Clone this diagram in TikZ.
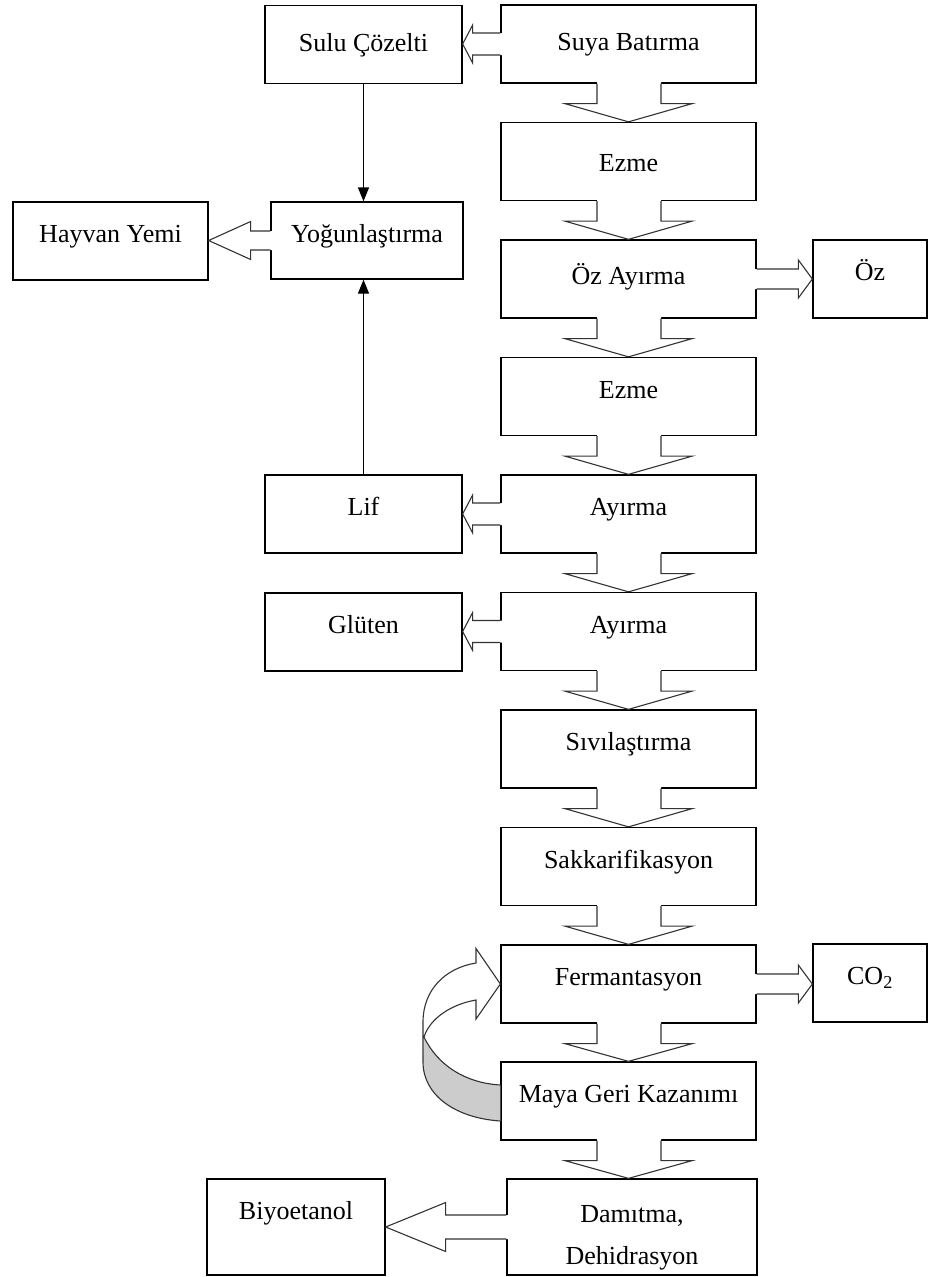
\documentclass[tikz,border=0pt]{standalone}
\usepackage{fontspec}
\setmainfont{Liberation Serif}
\usetikzlibrary{calc,arrows.meta}
\tikzset{
  box/.style={draw=black, line width=1.3pt, fill=white, inner sep=0pt,
    minimum width=197pt, minimum height=78pt,
    text height=18pt, text depth=15pt, font=\fontsize{26}{42}\selectfont},
  mbox/.style={box, minimum width=255pt, minimum height=78pt},
  arrline/.style={draw=black!80, line width=1.1pt, line join=miter},
  conn/.style={line width=1.3pt, -{Triangle[length=14pt,width=11pt]}}
}
\newcommand\chev[2]{%
  \fill[white] ($(#1.south)+(-31.5,-1.5)$) -- ($(#1.south)+(-31.5,20)$) -- ($(#1.south)+(-63.5,20)$) -- (#1.south |- #2.north) -- ($(#1.south)+(63.5,20)$) -- ($(#1.south)+(32.5,20)$) -- ($(#1.south)+(32.5,-1.5)$) -- cycle;
  \draw[arrline] ($(#1.south)+(-31.5,0)$) -- ($(#1.south)+(-31.5,20)$) -- ($(#1.south)+(-63.5,20)$) -- (#1.south |- #2.north) -- ($(#1.south)+(63.5,20)$) -- ($(#1.south)+(32.5,20)$) -- ($(#1.south)+(32.5,0)$);
}
\newcommand\hblock[5]{%
  \coordinate (hbS) at (#1);
  \coordinate (hbT) at (#2);
  \coordinate (hbH) at ($(hbT)!#5!(hbS)$);
  \coordinate (hbE) at ($(hbS)!-1.5pt!(hbT)$);
  \fill[white] ($(hbE)+(0,-#3)$) -- ($(hbH)+(0,-#3)$) -- ($(hbH)+(0,-#4)$) -- (hbT) -- ($(hbH)+(0,#4)$) -- ($(hbH)+(0,#3)$) -- ($(hbE)+(0,#3)$) -- cycle;
  \draw[arrline] ($(hbS)+(0,-#3)$) -- ($(hbH)+(0,-#3)$) -- ($(hbH)+(0,-#4)$) -- (hbT) -- ($(hbH)+(0,#4)$) -- ($(hbH)+(0,#3)$) -- ($(hbS)+(0,#3)$);
}
\begin{document}
\begin{tikzpicture}[x=1pt,y=-1pt]
\useasboundingbox (0,0) rectangle (929,1277);
% main column
\node[mbox, text height=28pt] (n1) at (628.5,44) {Suya Batırma};
\node[mbox, text height=34pt] (n2) at (628.5,161.5) {Ezme};
\node[mbox, text height=26pt] (n3) at (628.5,279) {Öz Ayırma};
\node[mbox] (n4) at (628.5,396.5) {Ezme};
\node[mbox] (n5) at (628.5,514) {Ayırma};
\node[mbox] (n6) at (628.5,631.5) {Ayırma};
\node[mbox] (n7) at (628.5,749) {Sıvılaştırma};
\node[mbox] (n8) at (628.5,866.5) {Sakkarifikasyon};
\node[mbox] (n9) at (628.5,984) {Fermantasyon};
\node[mbox] (n10) at (628.5,1101) {Maya Geri Kazanımı};
\node[box, minimum width=250pt, minimum height=96pt, align=center, text height=79pt, text depth=5pt] (n11) at (632,1227) {Damıtma,\\Dehidrasyon};
% side boxes
\node[box, text height=28pt] (sc) at (363.5,44.5) {Sulu Çözelti};
\node[box, minimum width=192pt, minimum height=77pt] (yog) at (367,240.5) {Yoğunlaştırma};
\node[box, minimum width=195pt] (hy) at (110.5,241) {Hayvan Yemi};
\node[box, minimum width=114pt] (oz) at (870,279) {Öz};
\node[box] (lif) at (363.5,514) {Lif};
\node[box] (glu) at (363.5,632) {Glüten};
\node[box, minimum width=114pt] (co) at (870,983) {CO\textsubscript{2}};
\node[box, minimum width=178pt, minimum height=96pt, text depth=34pt] (bio) at (296,1227) {Biyoetanol};
% thin connectors
\draw[conn] (sc.south) -- (sc.south |- yog.north);
\draw[conn] (lif.north) -- (lif.north |- yog.south);
% down block arrows
\chev{n1}{n2}
\chev{n2}{n3}
\chev{n3}{n4}
\chev{n4}{n5}
\chev{n5}{n6}
\chev{n6}{n7}
\chev{n7}{n8}
\chev{n8}{n9}
\chev{n9}{n10}
\chev{n10}{n11}
% side block arrows
\hblock{n1.west}{n1.west -| sc.east}{11}{19}{10pt}
\hblock{n3.east}{n3.east -| oz.west}{10}{19}{14pt}
\hblock{n5.west}{n5.west -| lif.east}{11}{19}{10pt}
\hblock{n6.west}{n6.west -| glu.east}{11}{19}{10pt}
\hblock{n9.east}{n9.east -| co.west}{10}{19}{14pt}
\hblock{yog.west}{yog.west -| hy.east}{9.5}{19}{42pt}
\hblock{n11.west}{n11.west -| bio.east}{12}{24.5}{60pt}
% curved recycle arrow
\fill[gray!40] (424,1037) .. controls (438,1066) and (466,1083) .. ($(n10.west)+(0,-16)$) -- ($(n10.west)+(0,20)$) .. controls (455,1118) and (423,1095) .. (423,1062) -- cycle;
\draw[arrline] ($(n10.west)+(0,20)$) .. controls (455,1118) and (423,1095) .. (423,1062) -- (423,1022) .. controls (423,990) and (445,968) .. (476,963) -- (476,948.5) -- (n9.west) -- (476,1019) -- (476,1000) .. controls (452,1004) and (430,1018) .. (424,1037) .. controls (438,1066) and (466,1083) .. ($(n10.west)+(0,-16)$);
\end{tikzpicture}
\end{document}
